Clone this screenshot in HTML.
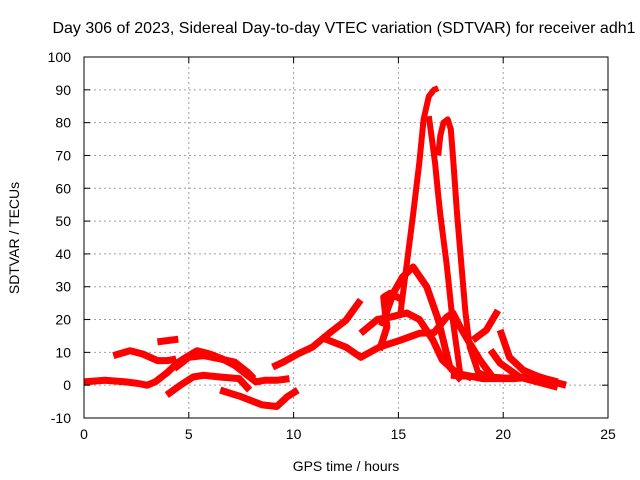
<!DOCTYPE html>
<html><head><meta charset="utf-8"><style>
body{margin:0;background:#fff}
svg{display:block;font-family:"Liberation Sans",sans-serif}
</style></head><body>
<svg id="chart" width="640" height="480">
<rect width="640" height="480" fill="#fff"/>
<text x="344" y="33" text-anchor="middle" font-size="16">Day 306 of 2023, Sidereal Day-to-day VTEC variation (SDTVAR) for receiver adh1</text>
<text x="346" y="471" text-anchor="middle" font-size="14">GPS time / hours</text>
<text transform="translate(19,238) rotate(-90)" text-anchor="middle" font-size="14">SDTVAR / TECUs</text>
<g id="grid"></g><g id="series"></g><g id="axes"></g>
</svg>
<script>
const xTicks=[0,5,10,15,20,25];
const yTicks=[-10,0,10,20,30,40,50,60,70,80,90,100];
const seg1=[[0,1],[1,1.5],[2,1],[2.6,0.5],[3,0],[3.4,1],[4,4],[4.5,7],[5,9],[5.4,10.5],[6,9.5],[6.6,8],[7.2,6],[7.8,3],[8.2,1],[8.6,1.5],[9.2,1.5],[9.8,2]];
const seg2=[[1.4,9],[2.2,10.5],[2.8,9.5],[3.5,7.5],[4,7.5],[4.4,8]];
const seg3=[[3.5,13.2],[4.5,14]];
const seg4=[[3.95,-3],[4.6,0],[5.2,2.5],[5.7,3],[6.5,2.5],[7.4,2],[7.9,-1.5]];
const seg5=[[6.5,-1.5],[7.5,-3.5],[8.5,-6],[9.2,-6.5],[9.7,-3.5],[10.2,-1.5]];
const seg6=[[4.3,5],[5,8.5],[5.7,9],[6.5,8],[7.2,7],[7.8,4],[8.1,2]];
const seg7=[[9.0,5.5],[9.5,7],[10.2,9.5],[10.9,11.6],[11.7,15.8],[12.5,19.8],[13.2,26]];
const seg8=[[11.3,14.6],[12.5,11.6],[13.2,8.5],[14.1,11.6],[15.1,13.7],[16.0,15.8],[16.7,16],[17.3,20.7],[17.6,22],[17.95,17.7],[18.4,12.8],[18.9,7.6],[19.5,2.4],[20.5,2],[21.5,2.5],[22.5,1]];
const seg9=[[13.2,15.8],[14,20],[14.6,20.7],[15.4,22],[16,20],[16.65,13.7],[17.1,7.6],[17.8,3.6],[19,2],[20.5,2]];
const seg10=[[14.1,10.7],[14.45,17.7],[14.3,26.8],[14.6,28],[15.2,26]];
const seg11=[[14.2,18],[14.75,28],[15.2,33],[15.7,36],[16.35,30],[16.9,20],[17.45,5.5],[18,1.5]];
const seg12=[[15.1,22],[15.4,37],[15.7,52],[16.0,68],[16.2,81],[16.45,88],[16.7,90],[16.9,90.5]];
const seg13=[[16.45,82],[16.6,75],[16.75,67.6],[16.9,58],[17.0,52],[17.3,37],[17.55,22],[17.95,3.6],[18.5,2]];
const seg14=[[16.9,70],[17.0,76],[17.15,80],[17.35,81],[17.5,78],[17.6,70],[17.8,52],[18.0,37],[18.2,22],[18.4,11.6],[18.8,4],[19.5,2]];
const seg15=[[18.55,13.7],[19.2,16.8],[19.75,22.8]];
const seg16=[[19.85,16.8],[20.3,8.5],[20.95,4.6],[22.1,1.5],[23,0]];
const seg17=[[19.4,10.7],[19.85,6.7],[20.8,2.4],[22.6,-0.6]];
const seg18=[[17.5,3],[19,2.5],[20,2],[21,2.5],[21.5,3],[22,2],[22.6,1]];
const series=[seg1,seg2,seg3,seg4,seg5,seg6,seg7,seg8,seg9,seg10,seg11,seg12,seg13,seg14,seg15,seg16,seg17,seg18];

const X0=84,X1=608,Y0=418,Y1=57;
function sx(h){return X0+(h-0)/(25-0)*(X1-X0);}
function sy(v){return Y0-(v+10)/(110)*(Y0-Y1);}
const NS="http://www.w3.org/2000/svg";
function mk(t,a,p){const e=document.createElementNS(NS,t);for(const k in a)e.setAttribute(k,a[k]);p.appendChild(e);return e;}
const grid=document.getElementById('grid'),axes=document.getElementById('axes'),ser=document.getElementById('series');
xTicks.forEach(t=>{
  const x=sx(t);
  if(t>0&&t<25){const g=mk('line',{x1:x,x2:x,y1:Y1,y2:Y0,stroke:'#a0a0a0','stroke-dasharray':'2,3'},grid);
  
  }
  mk('line',{x1:x,x2:x,y1:Y0,y2:Y0-6,stroke:'#000'},axes);
  mk('line',{x1:x,x2:x,y1:Y1,y2:Y1+6,stroke:'#000'},axes);
  const l=mk('text',{x:x,y:Y0+21,'text-anchor':'middle','font-size':'14'},axes);l.textContent=t;
  
  
});
yTicks.forEach(t=>{
  const y=sy(t);
  if(t>-10&&t<100){const g=mk('line',{x1:X0,x2:X1,y1:y,y2:y,stroke:'#a0a0a0','stroke-dasharray':'2,3'},grid);
  
  }
  mk('line',{x1:X0,x2:X0+6,y1:y,y2:y,stroke:'#000'},axes);
  mk('line',{x1:X1,x2:X1-6,y1:y,y2:y,stroke:'#000'},axes);
  const l=mk('text',{x:X0-13,y:y+5,'text-anchor':'end','font-size':'14'},axes);l.textContent=t;
  
  
});
const box=mk('rect',{x:X0,y:Y1,width:X1-X0,height:Y0-Y1,fill:'none',stroke:'#000'},axes);


series.forEach((s,i)=>{
  const p=mk('polyline',{points:s.map(d=>sx(d[0]).toFixed(1)+','+sy(d[1]).toFixed(1)).join(' '),fill:'none',stroke:'#ff0000','stroke-width':(i>=11&&i<=13)?6:7,'stroke-linejoin':'round','stroke-linecap':'butt'},ser);
  
  
});
</script>
</body></html>
